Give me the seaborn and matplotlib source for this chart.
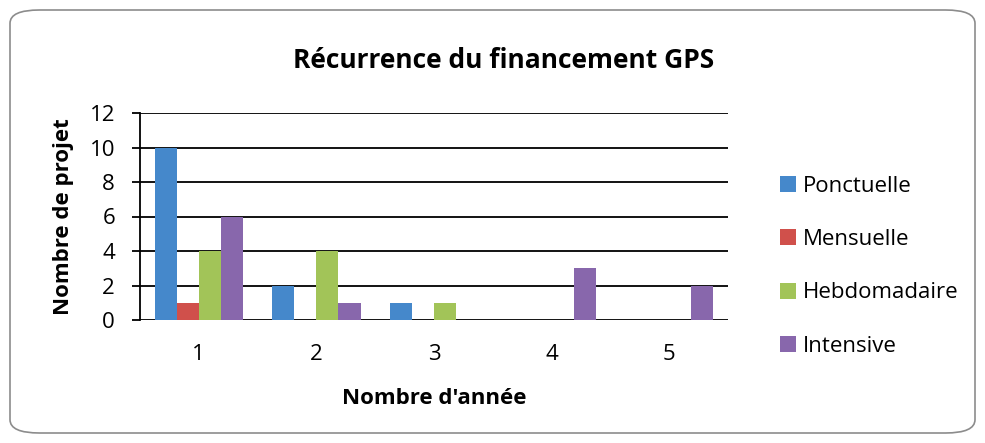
import numpy as np
import pandas as pd
import seaborn as sns
import matplotlib.pyplot as plt
from matplotlib.patches import FancyBboxPatch

annees = ["1", "2", "3", "4", "5"]
ponctuelle = [10, 2, 1, 0, 0]
mensuelle = [1, 0, 0, 0, 0]
hebdomadaire = [4, 4, 1, 0, 0]
intensive = [6, 1, 0, 3, 2]
series = ["Ponctuelle", "Mensuelle", "Hebdomadaire", "Intensive"]
colors = ["#4588CB", "#D0504B", "#A2C458", "#8867AC"]

df = pd.DataFrame({
    "Annee": annees * 4,
    "Type": np.repeat(series, len(annees)),
    "Projets": ponctuelle + mensuelle + hebdomadaire + intensive,
})

sns.set_style("white")
plt.rcParams["font.family"] = ["Open Sans", "DejaVu Sans"]
plt.rcParams["text.color"] = "black"
plt.rcParams["axes.labelcolor"] = "black"
plt.rcParams["xtick.color"] = "black"
plt.rcParams["ytick.color"] = "black"

fig = plt.figure(figsize=(9.85, 4.43), dpi=100)
border = FancyBboxPatch((10 / 985, 10 / 443), 965 / 985, 423 / 443,
                        boxstyle="round,pad=0,rounding_size=0.03",
                        transform=fig.transFigure, facecolor="white",
                        edgecolor="#8c8c8c", linewidth=1.2, zorder=-5)
fig.patches.append(border)

ax = fig.add_axes([140 / 985, 1 - 320 / 443, 588 / 985, 207 / 443])
ax.set_facecolor("none")
sns.barplot(data=df, x="Annee", y="Projets", hue="Type", palette=colors,
            width=0.75, linewidth=0, saturation=1, ax=ax, zorder=3)

ax.set_ylim(0, 12)
ax.set_yticks(range(0, 13, 2))
ax.yaxis.grid(True, color="black", linewidth=1.3)
ax.set_axisbelow(True)
for s in ["top", "right", "bottom"]:
    ax.spines[s].set_visible(False)
ax.spines["left"].set_color("black")
ax.spines["left"].set_linewidth(1.3)
ax.tick_params(axis="y", length=6, width=1.3, color="black", left=True,
               labelsize=16, pad=12)
ax.tick_params(axis="x", length=0, labelsize=16, pad=17)

ax.set_xlabel("Nombre d'année", fontsize=16, fontweight="bold", labelpad=17)
ax.set_ylabel("Nombre de projet", fontsize=16, fontweight="bold")
ax.yaxis.set_label_coords(-0.112, 0.5)
fig.text(0.5 * (290 + 717) / 985, 1 - 60 / 443, "Récurrence du financement GPS",
         fontsize=19, fontweight="bold", ha="center", va="center")

ax.legend(title=None, frameon=False, loc="center left",
          bbox_to_anchor=(1.088, 0.26), fontsize=16, labelspacing=1.46,
          borderpad=0, borderaxespad=0,
          handlelength=0.72, handleheight=0.72, handletextpad=0.3)

plt.savefig("out.png", dpi=100)
